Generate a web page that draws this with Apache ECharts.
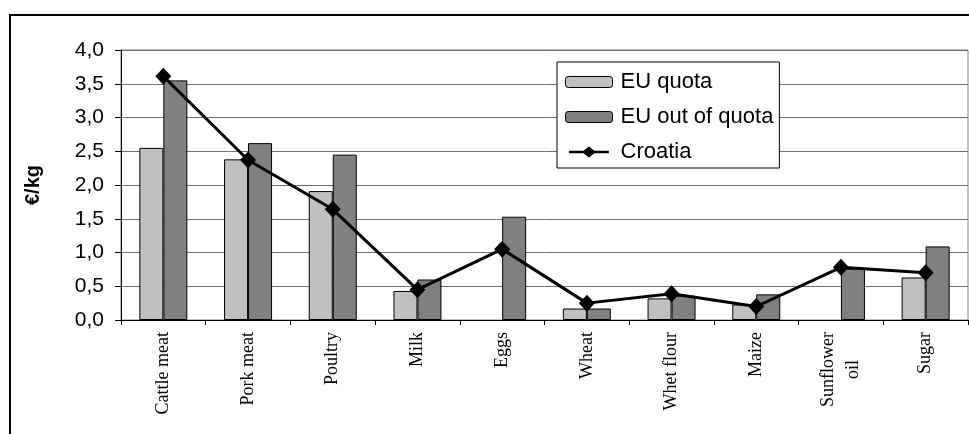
<!DOCTYPE html>
<html>
<head>
<meta charset="utf-8">
<script src="https://cdn.jsdelivr.net/npm/echarts@6/dist/echarts.min.js"></script>
<style>
  html, body { margin: 0; padding: 0; background: #fff; }
  #chart { width: 969px; height: 434px; }
</style>
</head>
<body>
<div id="chart"></div>
<script>
// Product categories (x axis)
var categories = ['Cattle meat', 'Pork meat', 'Poultry', 'Milk', 'Eggs', 'Wheat', 'Whet flour', 'Maize', 'Sunflower\noil', 'Sugar'];
// Prices in €/kg
var euQuota = [2.55, 2.38, 1.91, 0.43, null, 0.17, 0.32, 0.23, null, 0.63];
var euOutOfQuota = [3.55, 2.62, 2.45, 0.60, 1.53, 0.17, 0.36, 0.38, 0.76, 1.09];
var croatia = [3.61, 2.37, 1.64, 0.45, 1.05, 0.25, 0.39, 0.20, 0.78, 0.70];
// Value axis ticks
var yTicks = [0, 0.5, 1.0, 1.5, 2.0, 2.5, 3.0, 3.5, 4.0];

var SANS = "'Liberation Sans', Arial, sans-serif";
var SERIF = "'Liberation Serif', 'Times New Roman', serif";

// Legend key for the line series: thick line with a diamond in the middle
var LINE_DIAMOND_ICON = 'path://M0,5L17,5L23.5,0L30,5L47,5L47,8L30,8L23.5,13L17,8L0,8Z';

var chart = echarts.init(document.getElementById('chart'), null, { renderer: 'canvas' });

chart.setOption({
  animation: false,
  backgroundColor: '#ffffff',
  graphic: [{
    type: 'rect',
    shape: { x: 10, y: 15, width: 1000, height: 500 },
    style: { fill: 'none', stroke: '#000', lineWidth: 2 },
    z: -10,
    silent: true
  }],
  grid: {
    left: 121, right: 1, top: 50, bottom: 114,
    show: true, borderColor: '#808080', borderWidth: 1, backgroundColor: 'transparent'
  },
  legend: {
    orient: 'vertical',
    left: 557, top: 62,
    backgroundColor: '#fff',
    borderColor: '#000',
    borderWidth: 1,
    padding: [9, 6, 5, 8],
    itemWidth: 47,
    itemHeight: 11,
    itemGap: 13,
    textStyle: { fontFamily: SANS, fontSize: 22, lineHeight: 21, color: '#000', padding: [0, 0, 0, 3] },
    data: [
      { name: 'EU quota', itemStyle: { color: '#c0c0c0', borderColor: '#000', borderWidth: 1 } },
      { name: 'EU out of quota', itemStyle: { color: '#808080', borderColor: '#000', borderWidth: 1 } },
      { name: 'Croatia', icon: LINE_DIAMOND_ICON, itemStyle: { color: '#000', borderWidth: 0 } }
    ]
  },
  xAxis: {
    type: 'category',
    data: categories,
    axisLine: { lineStyle: { color: '#000', width: 1 } },
    axisTick: { show: true, length: 5, lineStyle: { color: '#000' } },
    axisLabel: {
      rotate: 90,
      margin: 12,
      interval: 0,
      color: '#000',
      fontFamily: SERIF,
      fontSize: 18,
      lineHeight: 25,
      formatter: function (v) {
        return v.split('\n').map(function (s) { return '{c|' + s + '}'; }).join('\n');
      },
      rich: {
        c: { align: 'center', fontFamily: SERIF, fontSize: 18, lineHeight: 25, color: '#000' }
      }
    }
  },
  yAxis: {
    type: 'value',
    min: yTicks[0],
    max: yTicks[yTicks.length - 1],
    interval: yTicks[1] - yTicks[0],
    name: '€/kg',
    nameLocation: 'middle',
    nameRotate: 90,
    nameGap: 78,
    nameTextStyle: { fontFamily: SANS, fontSize: 20, fontWeight: 'bold', color: '#000' },
    axisLine: { show: true, lineStyle: { color: '#000', width: 1 } },
    axisTick: { show: true, length: 6, lineStyle: { color: '#000' } },
    axisLabel: {
      margin: 17,
      color: '#000',
      fontFamily: SANS,
      fontSize: 21,
      formatter: function (v) { return v.toFixed(1).replace('.', ','); }
    },
    splitLine: { show: true, lineStyle: { color: '#6e6e6e', width: 1 } }
  },
  series: [
    {
      name: 'EU quota',
      type: 'bar',
      data: euQuota,
      barWidth: 24,
      barGap: '0%',
      itemStyle: { color: '#c0c0c0', borderColor: '#000', borderWidth: 1 }
    },
    {
      name: 'EU out of quota',
      type: 'bar',
      data: euOutOfQuota,
      barWidth: 24,
      barGap: '0%',
      itemStyle: { color: '#808080', borderColor: '#000', borderWidth: 1 }
    },
    {
      name: 'Croatia',
      type: 'line',
      data: croatia,
      symbol: 'diamond',
      symbolSize: [16, 17],
      showSymbol: true,
      itemStyle: { color: '#000' },
      lineStyle: { color: '#000', width: 3 },
      z: 5
    }
  ]
});
</script>
</body>
</html>
